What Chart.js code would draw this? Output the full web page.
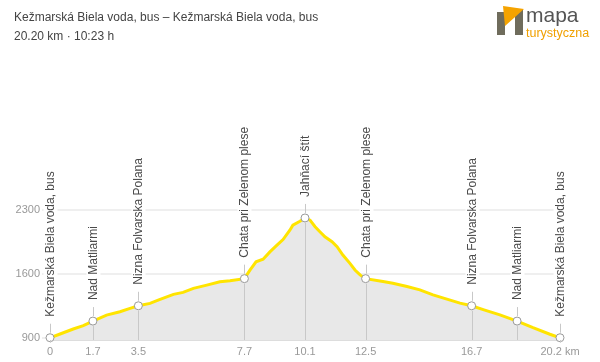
<!DOCTYPE html>
<html>
<head>
<meta charset="utf-8">
<script src="https://cdn.jsdelivr.net/npm/chart.js@4.4.1/dist/chart.umd.min.js"></script>
<style>
    body { margin: 0; background: #fff; font-family: "Liberation Sans", Arial, sans-serif; }
    #wrap { position: relative; width: 600px; height: 362px; }
    #profile { position: absolute; left: 0; top: 0; }
    .title { position: absolute; left: 14px; top: 8px; font-size: 12px; line-height: 19px; color: #444; }
    .logo { position: absolute; left: 490px; top: 0; }
</style>
</head>
<body>
<div id="wrap">
    <canvas id="profile" width="600" height="362"></canvas>
    <div class="title">Kežmarská Biela voda, bus – Kežmarská Biela voda, bus<br>20.20 km · 10:23 h</div>
    <svg class="logo" width="110" height="44">
        <rect x="7" y="12" width="8" height="23" fill="#6f6c5c"/>
        <rect x="25" y="9" width="8" height="26" fill="#6f6c5c"/>
        <polygon points="13,6 34,9 15,26" fill="#f5a300"/>
        <text x="36" y="22" font-size="21" fill="#555" font-family="Liberation Sans, Arial">mapa</text>
        <text x="36" y="37" font-size="12.5" fill="#f0a000" font-family="Liberation Sans, Arial">turystyczna</text>
    </svg>
</div>
<script>
// Elevation profile (distance in km, elevation in m)
const distKm = [
    0, 0.40, 0.92, 1.32, 1.70, 2.24, 2.77, 3.17, 3.50, 3.96, 4.36, 4.89, 5.27, 5.68, 6.21, 6.73, 7.13, 7.70,
    7.92, 8.16, 8.44, 8.71, 8.99, 9.23, 9.50, 9.62, 9.90, 10.10,
    10.30, 10.50, 10.69, 10.89, 11.17, 11.37, 11.60, 11.88, 12.08, 12.28, 12.50,
    13.19, 13.58, 14.14, 14.65, 15.17, 15.72, 16.24, 16.70, 17.19, 17.82, 18.50, 19.13, 19.80, 20.20
];
const elevM = [
    900, 941, 996, 1032, 1083, 1149, 1185, 1223, 1251, 1277, 1321, 1376, 1398, 1442, 1478, 1514, 1525, 1549,
    1643, 1734, 1763, 1843, 1917, 1979, 2081, 2136, 2180, 2216,
    2192, 2119, 2064, 2009, 1955, 1900, 1809, 1717, 1644, 1590, 1549,
    1517, 1499, 1462, 1426, 1371, 1324, 1280, 1251, 1206, 1151, 1083, 1010, 938, 900
];

// Waypoints along the route
const waypointNames = [
    'Kežmarská Biela voda, bus', 'Nad Matliarmi', 'Nizna Folvarska Polana', 'Chata pri Zelenom plese',
    'Jahňací štít', 'Chata pri Zelenom plese', 'Nizna Folvarska Polana', 'Nad Matliarmi', 'Kežmarská Biela voda, bus'
];
const waypointKm = [0, 1.7, 3.5, 7.7, 10.1, 12.5, 16.7, 18.5, 20.2];
const waypointEle = [900, 1083, 1251, 1549, 2216, 1549, 1251, 1083, 900];

// Axis ticks
const xTicks = [0, 1.7, 3.5, 7.7, 10.1, 12.5, 16.7, 20.2];
const yTicks = [900, 1600, 2300];

const FONT = '"Liberation Sans", Arial, sans-serif';

// Draws the guide lines and the rotated waypoint names
const waypointPlugin = {
    id: 'waypoints',
    afterDatasetsDraw(chart) {
        const { ctx, chartArea, scales: { x, y } } = chart;
        ctx.save();
        ctx.font = '12px ' + FONT;
        waypointKm.forEach((km, i) => {
            const px = Math.round(x.getPixelForValue(km)) + 0.5;
            const py = y.getPixelForValue(waypointEle[i]);

            ctx.strokeStyle = '#c8c8c8';
            ctx.lineWidth = 1;
            ctx.beginPath();
            ctx.moveTo(px, py - 14);
            ctx.lineTo(px, py - 5);
            ctx.moveTo(px, py + 5);
            ctx.lineTo(px, chartArea.bottom);
            ctx.stroke();

            ctx.save();
            ctx.translate(px, py - 21);
            ctx.rotate(-Math.PI / 2);
            const w = ctx.measureText(waypointNames[i]).width;
            ctx.fillStyle = '#fff';
            ctx.fillRect(-3, -7, w + 6, 14);
            ctx.fillStyle = '#4a4a4a';
            ctx.textBaseline = 'middle';
            ctx.fillText(waypointNames[i], 0, 0);
            ctx.restore();
        });
        ctx.restore();
    }
};

const ctx = document.getElementById('profile');

new Chart(ctx, {
    type: 'line',
    data: {
        datasets: [
            {
                label: 'waypoints',
                data: waypointKm.map((km, i) => ({ x: km, y: waypointEle[i] })),
                showLine: false,
                pointRadius: 4,
                pointBackgroundColor: '#fff',
                pointBorderColor: '#999',
                pointBorderWidth: 1,
                clip: false,
                order: 0
            },
            {
                label: 'profile',
                data: distKm.map((km, i) => ({ x: km, y: elevM[i] })),
                borderColor: '#ffe400',
                borderWidth: 3,
                backgroundColor: '#e8e8e8',
                fill: 'start',
                pointRadius: 0,
                tension: 0,
                order: 1
            }
        ]
    },
    options: {
        responsive: false,
        animation: false,
        devicePixelRatio: 1,
        layout: { padding: { top: 183, right: 40, bottom: 0, left: 0 } },
        plugins: {
            legend: { display: false },
            tooltip: { enabled: false }
        },
        scales: {
            x: {
                type: 'linear',
                min: 0,
                max: 20.2,
                afterBuildTicks: scale => { scale.ticks = xTicks.map(v => ({ value: v })); },
                afterFit: scale => { scale.height = 22; },
                grid: { display: false, drawTicks: false },
                border: { display: true, color: '#dddddd', width: 2 },
                ticks: {
                    autoSkip: false,
                    maxRotation: 0,
                    padding: 5,
                    color: '#999',
                    font: { family: FONT, size: 11 },
                    callback: v => v === 20.2 ? '20.2 km' : String(v)
                }
            },
            y: {
                min: 875,
                max: 2600,
                afterBuildTicks: scale => { scale.ticks = yTicks.map(v => ({ value: v })); },
                afterFit: scale => { scale.width = 50; },
                grid: { color: '#efefef', lineWidth: 2, tickLength: 8 },
                border: { display: false },
                ticks: {
                    padding: 2,
                    color: '#999',
                    font: { family: FONT, size: 11 },
                    callback: v => String(v)
                }
            }
        }
    },
    plugins: [waypointPlugin]
});
</script>
</body>
</html>
